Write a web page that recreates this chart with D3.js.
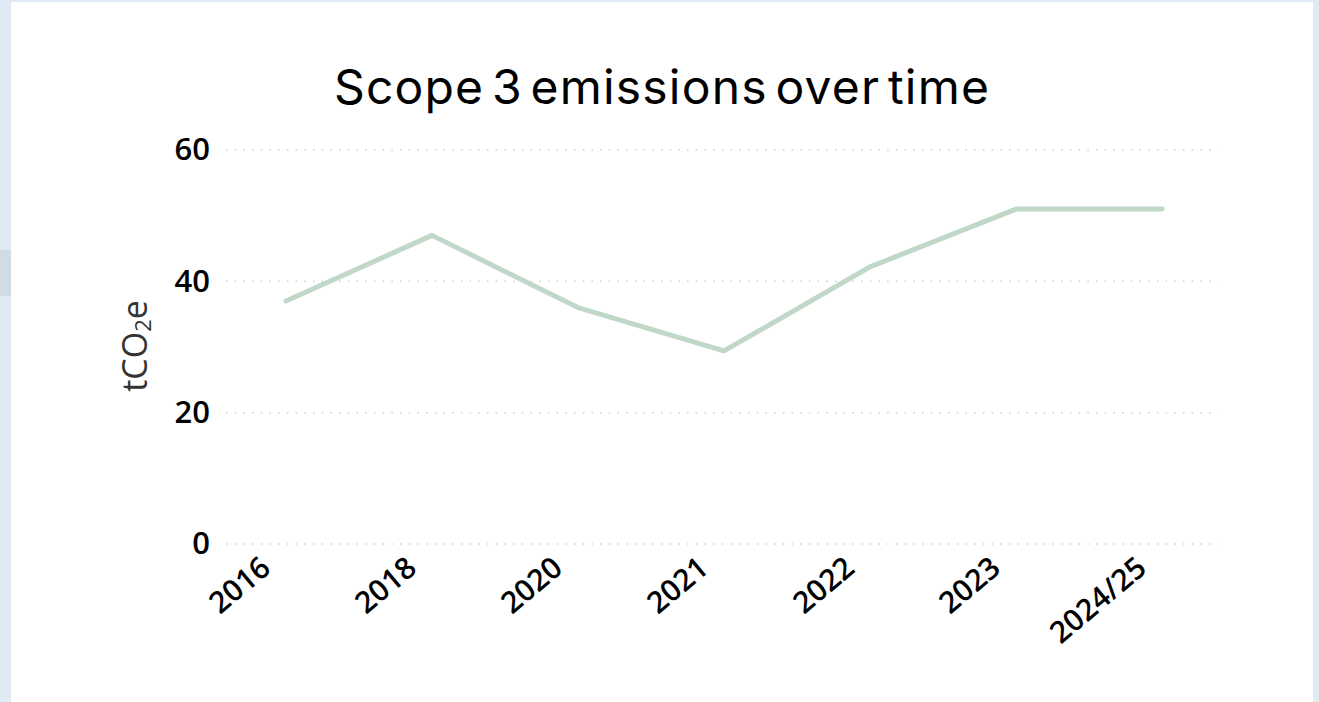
<!DOCTYPE html>
<html>
<head>
<meta charset="utf-8">
<script src="https://cdn.jsdelivr.net/npm/d3@7"></script>
<style>
  html, body { margin: 0; padding: 0; background: #e0eaf5; }
  svg { display: block; }
</style>
</head>
<body>
<svg id="chart" width="1319" height="702"></svg>
<script>
const categories = ["2016", "2018", "2020", "2021", "2022", "2023", "2024/25"];
const emissions = [37, 47, 36, 29.4, 42.2, 51, 51];
const yTicks = [0, 20, 40, 60];
const titleText = "Scope 3 emissions over time";
const yAxisLabel = "tCO";

const svg = d3.select("#chart");
const W = 1319, H = 702;

// page background + side band + card
svg.append("rect").attr("x", 0).attr("y", 0).attr("width", W).attr("height", H).attr("fill", "#e0eaf5");
svg.append("rect").attr("x", 0).attr("y", 250).attr("width", 11).attr("height", 46).attr("fill", "#cfdbe5");
svg.append("rect").attr("x", 11).attr("y", 2).attr("width", 1302).attr("height", H - 2).attr("fill", "#ffffff");

const plot = { left: 226, right: 1218, top: 150, bottom: 544 };

const x = d3.scalePoint().domain(categories).range([286, 1162]);
const y = d3.scaleLinear().domain([0, 60]).range([plot.bottom, plot.top]);

// title
svg.append("text")
  .attr("x", 662).attr("y", 104)
  .attr("text-anchor", "middle")
  .attr("font-family", "Inter, sans-serif")
  .attr("font-size", 48)
  .attr("letter-spacing", 1.2)
  .attr("word-spacing", -7)
  .attr("fill", "#000")
  .text(titleText);

// gridlines
svg.append("g").selectAll("line").data(yTicks).join("line")
  .attr("x1", plot.left).attr("x2", plot.right)
  .attr("y1", d => y(d)).attr("y2", d => y(d))
  .attr("stroke", "#cfcfcf").attr("stroke-width", 1.5)
  .attr("stroke-dasharray", "1.5,7.2");

// y axis tick labels
const yAxis = d3.axisLeft(y).tickValues(yTicks).tickSize(0).tickPadding(0);
const gy = svg.append("g").attr("transform", `translate(${plot.left - 16},0)`).call(yAxis);
gy.select(".domain").remove();
gy.selectAll("text")
  .attr("font-family", "'Open Sans', sans-serif")
  .attr("font-size", 31).attr("font-weight", 600)
  .attr("fill", "#000").attr("dy", "0.32em");

// x axis tick labels
const xAxis = d3.axisBottom(x).tickSize(0).tickPadding(0);
const gx = svg.append("g").attr("transform", `translate(0,${plot.bottom})`).call(xAxis);
gx.select(".domain").remove();
gx.selectAll("text")
  .attr("font-family", "'Open Sans', sans-serif")
  .attr("font-size", 30).attr("font-weight", 600)
  .attr("fill", "#000")
  .attr("text-anchor", "end")
  .attr("dy", null).attr("y", 0)
  .attr("transform", "translate(-14,27) rotate(-40)");

// y axis title
const yt = svg.append("text")
  .attr("transform", "translate(147,346) rotate(-90)")
  .attr("text-anchor", "middle")
  .attr("font-family", "'Open Sans', sans-serif")
  .attr("font-size", 34)
  .attr("fill", "#333");
yt.append("tspan").text(yAxisLabel);
yt.append("tspan").attr("font-size", 22).attr("dy", 4).text("2");
yt.append("tspan").attr("dy", -4).text("e");

// line
const line = d3.line().x((d, i) => x(categories[i])).y(d => y(d));
svg.append("path").datum(emissions)
  .attr("d", line)
  .attr("fill", "none")
  .attr("stroke", "#c1d8c8")
  .attr("stroke-width", 5)
  .attr("stroke-linecap", "round")
  .attr("stroke-linejoin", "round");
</script>
</body>
</html>
